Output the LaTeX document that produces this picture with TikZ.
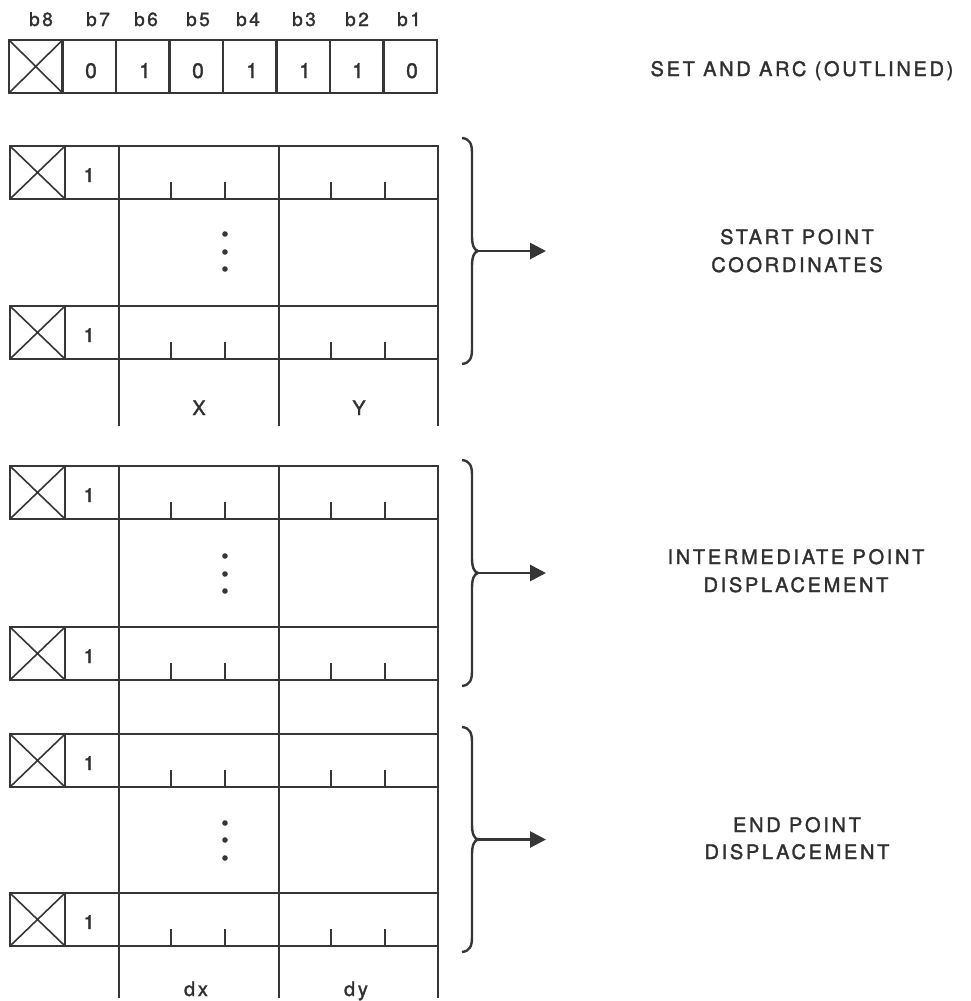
\documentclass[tikz,border=0pt]{standalone}
\usepackage{fontspec}
\setmainfont{TeX Gyre Heros}[LetterSpace=13.5, FakeBold=1.6]
\usetikzlibrary{arrows.meta}
\definecolor{ink}{HTML}{363636}
\definecolor{txt}{HTML}{303030}
\tikzset{
  lbl/.style={anchor=base, inner sep=0pt, text=txt, font=\fontsize{20bp}{28bp}\selectfont},
  hdr/.style={lbl, font=\fontsize{19bp}{20bp}\selectfont},
  dig/.style={lbl, font=\fontsize{21bp}{22bp}\selectfont},
  one/.style={lbl, font=\fontsize{19.5bp}{22bp}\selectfont},
  crossln/.style={line width=1.6bp},
  tickln/.style={line width=2bp},
  arr/.style={line width=2.8bp, -{Triangle[length=16bp,width=16bp]}},
  dotmark/.style={fill=ink, draw=none},
}
\newcommand\fieldrow[2]{% #1 = top y, #2 = name
  \draw (10,#1) rectangle (438,#1+53);
  \draw (65,#1) -- (65,#1+53);
  \draw (119,#1) -- (119,#1+53);
  \draw (279,#1) -- (279,#1+53);
  \draw[crossln] (10,#1) -- (65,#1+53) (10,#1+53) -- (65,#1);
  \foreach \tx in {171,225,331,385} \draw[tickln] (\tx,#1+53) -- (\tx,#1+36);
  \node[one] (#2) at (89,#1+36) {1};
}
\newcommand\sidebrace[3]{% #1 top, #2 bottom, #3 name
  \pgfmathsetmacro\bmid{(#1+#2)/2}
  \draw (462,#1) .. controls (470,#1+1) and (472,#1+6) .. (472,#1+15)
    -- (472,\bmid-15) .. controls (472,\bmid-6) and (474,\bmid-1) .. (478,\bmid)
    .. controls (474,\bmid+1) and (472,\bmid+6) .. (472,\bmid+15)
    -- (472,#2-15) .. controls (472,#2-6) and (470,#2-1) .. (462,#2);
  \coordinate (#3tip) at (478,\bmid);
  \coordinate (#3end) at (546,\bmid);
  \draw[arr] (#3tip) -- (#3end);
}
\begin{document}
\begin{tikzpicture}[x=1bp, y=-1bp, line width=2.4bp, draw=ink, color=ink]
\useasboundingbox[fill=white] (0,0) rectangle (971,1001);

% header
\draw (9,40) rectangle (437,93);
\foreach \k in {1,...,7} \draw (9+53.5*\k,40) -- (9+53.5*\k,93);
\draw[crossln] (9,40) -- (62.5,93) (9,93) -- (62.5,40);
\foreach \x/\t in {41/8,98/7,146/6,198/5,248/4,304/3,357/2,409/1}
  \node[hdr] (hb\t) at (\x,26) {b\t};
\foreach \x/\v/\n in {91/0/7,145/1/6,198/0/5,252/1/4,305/1/3,358/1/2,412/0/1}
  \node[dig] (hd\n) at (\x,78) {\v};
\node[lbl] (title) at (802,76) {SET AND ARC (OUTLINED)};

% block 1
\draw (119,146) -- (119,426);
\draw (279,146) -- (279,426);
\draw (438,146) -- (438,426);
\fieldrow{146}{ra1}
\fieldrow{306}{rb1}
\foreach \yy in {234,252,269} \fill[dotmark] (225,\yy) circle (2.8bp);
\node[lbl] (lx) at (199,415) {X};
\node[lbl] (ly) at (359,415) {Y};
\sidebrace{138}{364}{br1}
\node[lbl] (t1a) at (797,244) {START POINT};
\node[lbl] (t1b) at (797,272) {COORDINATES};

% block 2 and 3 verticals
\draw (119,466) -- (119,998);
\draw (279,466) -- (279,998);
\draw (438,466) -- (438,998);

% block 2
\fieldrow{466}{ra2}
\fieldrow{627}{rb2}
\foreach \yy in {556,574,591} \fill[dotmark] (225,\yy) circle (2.8bp);
\sidebrace{460}{686}{br2}
\node[lbl] (t2a) at (796,564) {INTERMEDIATE POINT};
\node[lbl] (t2b) at (796,592) {DISPLACEMENT};

% block 3
\fieldrow{734}{ra3}
\fieldrow{893}{rb3}
\foreach \yy in {823,840,858} \fill[dotmark] (225,\yy) circle (2.8bp);
\node[lbl] (ldx) at (196,996) {dx};
\node[lbl] (ldy) at (356,996) {dy};
\sidebrace{727}{952}{br3}
\node[lbl] (t3a) at (797,832) {END POINT};
\node[lbl] (t3b) at (797,859) {DISPLACEMENT};
\end{tikzpicture}
\end{document}
